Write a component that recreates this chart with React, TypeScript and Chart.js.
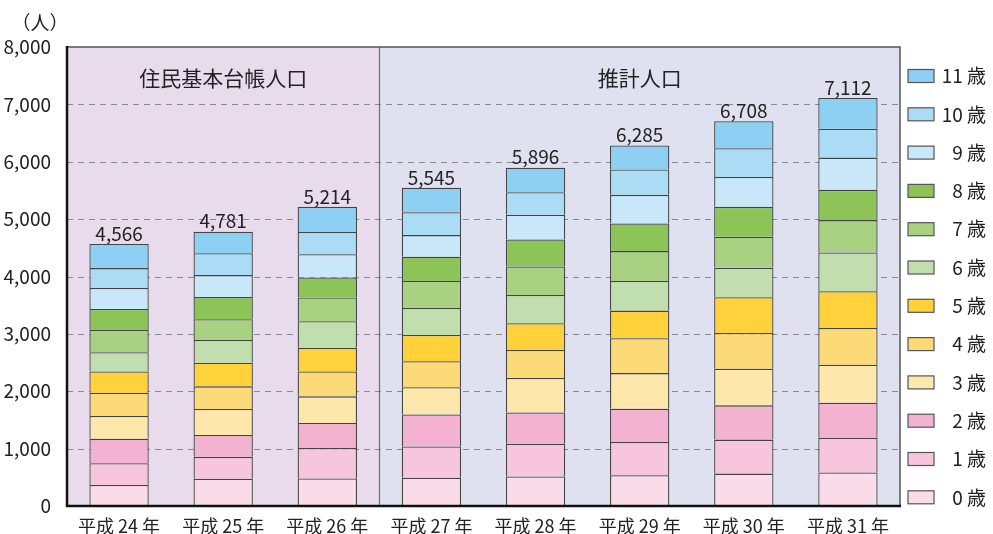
import React, { useEffect, useRef } from "react";
import { Chart, registerables } from "chart.js";

Chart.register(...registerables);

const categories = ["平成 24 年", "平成 25 年", "平成 26 年", "平成 27 年", "平成 28 年", "平成 29 年", "平成 30 年", "平成 31 年"];
const ageLabels = ["0 歳", "1 歳", "2 歳", "3 歳", "4 歳", "5 歳", "6 歳", "7 歳", "8 歳", "9 歳", "10 歳", "11 歳"];

const age0 = [365, 475, 481, 493, 516, 536, 565, 583];
const age1 = [382, 382, 532, 545, 569, 580, 592, 608];
const age2 = [423, 382, 435, 557, 545, 580, 597, 609];
const age3 = [399, 452, 463, 476, 603, 620, 637, 661];
const age4 = [406, 394, 434, 452, 487, 609, 626, 643];
const age5 = [370, 411, 411, 458, 464, 481, 621, 638];
const age6 = [336, 399, 463, 470, 493, 516, 516, 678];
const age7 = [388, 359, 417, 470, 499, 521, 539, 563];
const age8 = [365, 388, 348, 424, 470, 482, 521, 527];
const age9 = [365, 382, 405, 377, 429, 498, 522, 562];
const age10 = [347, 382, 388, 400, 395, 441, 499, 505];
const age11 = [420, 375, 437, 423, 426, 421, 473, 535];

const totals = [4566, 4781, 5214, 5545, 5896, 6285, 6708, 7112];
const yTicks = [0, 1000, 2000, 3000, 4000, 5000, 6000, 7000, 8000];
const sectionLabels = ["住民基本台帳人口", "推計人口"];
const unitLabel = "（人）";

const ageColors = [
  "#f9dce7", "#f7c6dc", "#f3b2cf",
  "#fde7aa", "#fdda78", "#ffd23c",
  "#c1dfae", "#a8d281", "#8dc457",
  "#c8e7f9", "#abdcf5", "#8dd0f3",
];

const FONT = "'Noto Sans CJK JP', 'Open Sans', sans-serif";

const decorPlugin = {
  id: "decor",
  beforeDatasetsDraw(chart: any) {
    const { ctx, chartArea, scales } = chart;
    const { left, right, top, bottom } = chartArea;
    const x = scales.x;
    const y = scales.y;
    const mid = x.getPixelForValue(2.5);
    ctx.save();
    ctx.fillStyle = "#e8dcec";
    ctx.fillRect(left, top, mid - left, bottom - top);
    ctx.fillStyle = "#dfe1f1";
    ctx.fillRect(mid, top, right - mid, bottom - top);
    ctx.strokeStyle = "#8a8a8a";
    ctx.lineWidth = 1.2;
    ctx.setLineDash([6, 5]);
    yTicks.forEach((t) => {
      if (t === 0 || t === 8000) return;
      const py = Math.round(y.getPixelForValue(t)) + 0.5;
      ctx.beginPath();
      ctx.moveTo(left, py);
      ctx.lineTo(right, py);
      ctx.stroke();
    });
    ctx.setLineDash([]);
    ctx.strokeStyle = "#6e6e6e";
    ctx.lineWidth = 1.2;
    ctx.beginPath();
    ctx.moveTo(Math.round(mid) + 0.5, top);
    ctx.lineTo(Math.round(mid) + 0.5, bottom);
    ctx.stroke();
    ctx.fillStyle = "#222";
    ctx.font = `21px ${FONT}`;
    ctx.textAlign = "center";
    ctx.textBaseline = "middle";
    ctx.fillText(sectionLabels[0], (left + mid) / 2, top + 31);
    ctx.fillText(sectionLabels[1], (mid + right) / 2, top + 31);
    ctx.restore();
  },
  afterDatasetsDraw(chart: any) {
    const { ctx, chartArea } = chart;
    const { left, right, top, bottom } = chartArea;
    ctx.save();
    ctx.strokeStyle = "#555";
    ctx.lineWidth = 1.5;
    ctx.beginPath();
    ctx.moveTo(left, top);
    ctx.lineTo(right, top);
    ctx.lineTo(right, bottom);
    ctx.stroke();
    ctx.strokeStyle = "#111";
    ctx.lineWidth = 2.5;
    ctx.beginPath();
    ctx.moveTo(left, top - 1);
    ctx.lineTo(left, bottom);
    ctx.lineTo(right + 1, bottom);
    ctx.stroke();
    const meta = chart.getDatasetMeta(chart.data.datasets.length - 1);
    ctx.fillStyle = "#222";
    ctx.font = `19px ${FONT}`;
    ctx.textAlign = "center";
    ctx.textBaseline = "bottom";
    meta.data.forEach((el: any, i: number) => {
      ctx.fillText(totals[i].toLocaleString("en-US"), el.x, el.y - 1);
    });
    ctx.font = `19px ${FONT}`;
    ctx.textBaseline = "middle";
    ctx.fillText(unitLabel, left - 27, top - 24);
    const pitch = 38.3;
    const startY = top + 29;
    const boxX = right + 8;
    ctx.font = `19px ${FONT}`;
    ctx.textAlign = "right";
    for (let k = 0; k < ageLabels.length; k++) {
      const di = ageLabels.length - 1 - k;
      const cy = startY + k * pitch;
      ctx.fillStyle = ageColors[di];
      ctx.fillRect(boxX, cy - 6.5, 26, 13);
      ctx.strokeStyle = "#555";
      ctx.lineWidth = 1.2;
      ctx.strokeRect(boxX, cy - 6.5, 26, 13);
      ctx.fillStyle = "#222";
      ctx.fillText(ageLabels[di], 986, cy);
    }
    ctx.restore();
  },
};

export default function App() {
  const ref = useRef<HTMLCanvasElement | null>(null);
  useEffect(() => {
    document.body.style.margin = "0";
    document.body.style.overflow = "hidden";
    const canvas = ref.current!;
    const series = [age0, age1, age2, age3, age4, age5, age6, age7, age8, age9, age10, age11];
    const chart = new Chart(canvas, {
      type: "bar",
      data: {
        labels: categories,
        datasets: series.map((d, i) => ({
          label: ageLabels[i],
          data: d,
          backgroundColor: ageColors[i],
          borderColor: "#444",
          borderWidth: 1.3,
          barPercentage: 0.57,
          categoryPercentage: 1.0,
        })),
      },
      options: {
        responsive: false,
        animation: false,
        layout: { padding: { left: 0, right: 93, top: 47, bottom: 0 } },
        plugins: { legend: { display: false }, tooltip: { enabled: false } },
        scales: {
          x: {
            stacked: true,
            grid: { display: false },
            border: { display: false },
            ticks: { color: "#222", font: { size: 18, family: FONT }, padding: 1, maxRotation: 0 },
            afterFit: (s: any) => { s.height = 28; },
          },
          y: {
            stacked: true,
            min: 0,
            max: 8000,
            grid: { display: false },
            border: { display: false },
            ticks: {
              stepSize: 1000,
              color: "#222",
              padding: 8,
              font: { size: 19, family: FONT },
              callback: (v: any) => Number(v).toLocaleString("en-US"),
            },
            afterFit: (s: any) => { s.width = 67; },
          },
        },
      },
      plugins: [decorPlugin],
    });
    return () => chart.destroy();
  }, []);
  return <canvas ref={ref} width={993} height={534} style={{ display: "block", width: 993, height: 534 }} />;
}
